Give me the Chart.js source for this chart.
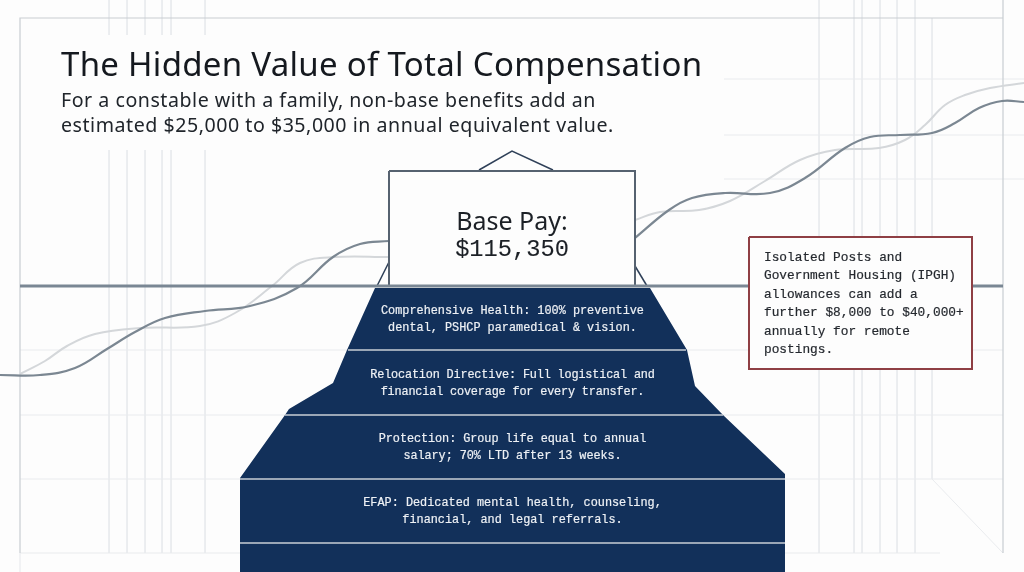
<!DOCTYPE html>
<html>
<head>
<meta charset="utf-8">
<title>The Hidden Value of Total Compensation</title>
<script src="https://cdn.jsdelivr.net/npm/chart.js@4"></script>
<style>
 html,body{margin:0;padding:0;background:#fdfdfd;overflow:hidden;}
 #wrap{position:relative;width:1024px;height:572px;}
 canvas{position:absolute;left:0;top:0;}
 .t{position:absolute;white-space:nowrap;}
 #title{left:61px;top:41px;font:33px/46px "Noto Sans",sans-serif;letter-spacing:.29px;color:#15191f;}
 #sub{left:61px;top:87px;font:19.6px/25px "Noto Sans",sans-serif;letter-spacing:.53px;color:#20252b;}
 #base{left:389px;width:246px;top:206px;text-align:center;color:#1c2026;}
 #base div:first-child{font:25px/28px "Noto Sans",sans-serif;}
 #base div:last-child{font:23.7px/28px "Liberation Mono",monospace;position:relative;top:2px;-webkit-text-stroke:.1px #1c2026;}
 .band{left:240px;width:545px;text-align:center;color:#eef1f5;font:11.85px/16.6px "Liberation Mono",monospace;-webkit-text-stroke:.2px #eef1f5;}
 #card{left:764px;top:249px;color:#25292f;font:12.8px/18.4px "Liberation Mono",monospace;-webkit-text-stroke:.2px #25292f;}
</style>
</head>
<body>
<div id="wrap">
 <canvas id="c" width="1024" height="572"></canvas>
 <div class="t" id="title"></div>
 <div class="t" id="sub"></div>
 <div class="t" id="base"></div>
 <div class="t" id="card"></div>
</div>
<script>
// text
const titleText = "The Hidden Value of Total Compensation";
const subLines = ["For a constable with a family, non-base benefits add an",
                  "estimated $25,000 to $35,000 in annual equivalent value."];
const baseLines = ["Base Pay:", "$115,350"];
const bandLines = [
 ["Comprehensive Health: 100% preventive","dental, PSHCP paramedical & vision."],
 ["Relocation Directive: Full logistical and","financial coverage for every transfer."],
 ["Protection: Group life equal to annual","salary; 70% LTD after 13 weeks."],
 ["EFAP: Dedicated mental health, counseling,","financial, and legal referrals."]
];
const bandTops = [303,367,431,495];
const bandSpacing = [0,-0.17,-0.07,0];
const cardLines = ["Isolated Posts and","Government Housing (IPGH)","allowances can add a",
                   "further $8,000 to $40,000+","annually for remote","postings."];

// the two growth curves; each passes behind the base pay box
const darkLeft = [[0,375],[40,375],[75,368],[107,349],[135,332],[165,318],[205,311],[250,306],[297,288],
 [333,257],[360,244],[389,241]];
const darkRight = [[635,238],[669,210],[692,198],[725,193],[770,193],[805,178],[845,148],[870,137],[900,135],
 [932,133],[955,123],[979,108],[1002,101],[1024,102]];
const lightLeft = [[20,374],[45,361],[67,346],[95,334],[140,328],[200,326],[235,313],[272,286],[300,263],[335,257],[389,257]];
const lightRight = [[635,220],[660,212],[699,210],[730,201],[765,181],[800,160],[835,150],[879,148],[905,140],
 [925,125],[945,105],[965,95],[990,88],[1024,83]];

// iceberg outline
const berg = [[375,288],[347,350],[333,383],[289,409],[285,415],[240,478],[240,572],[785,572],[785,474],[723,415],
 [695,386],[687,350],[650,288]];
const tipPeak = [[479,170],[512,151],[553,170]];
const tipLeft = [[377,286],[389,262]];
const tipRight = [[635,266],[647,286]];
const baseBox = [[389,171],[635,171],[635,286],[389,286],[389,171]];
const cardBox = [[749,237],[972,237],[972,369],[749,369],[749,237]];

// rules
const separators = [[350,348,686],[415,285,723],[479,240,785],[543,240,785]];
const waterLine = [[20,286],[1003,286]];
const gridLeft = [109,127,145,162,171,205];
const gridRight = [819,854,862,880,897,915];
const gridRows = [[350,20,1003],[415,20,1003],[479,20,1003]];
const gridUpper = [79,135,179];
const frame = [[20,553],[20,18],[1003,18]];
const frameTail = [[20,553],[20,572]];
const frameRight = [[1003,0],[1003,553]];
const frameBottom = [[20,553],[940,553]];
const diagonal = [[932,18],[932,479],[1003,553]];

const xy = a => a.map(p=>({x:p[0],y:p[1]}));
function line(points,color,width,extra){
 return Object.assign({data:xy(points),borderColor:color,borderWidth:width,pointRadius:0,fill:false,tension:0},extra||{});
}
function shape(points,fillColor,borderColor,width){
 return line(points,borderColor,width,{fill:'shape',backgroundColor:fillColor});
}

const gridCol="#e9ebee", frameCol="#c9cdd2", tipCol="#2f4058";
const smooth={tension:0.4};
let layers=[];
gridLeft.forEach(x=>{
 layers.push(line([[x,0],[x,35]],gridCol,1));
 layers.push(line([[x,150],[x,553]],gridCol,1));
});
gridRight.forEach(x=>layers.push(line([[x,0],[x,553]],gridCol,1)));
layers.push(line(diagonal,gridCol,1));
gridRows.forEach(r=>layers.push(line([[r[1],r[0]],[r[2],r[0]]],gridCol,1)));
gridUpper.forEach(y=>layers.push(line([[724,y],[1024,y]],gridCol,1)));
layers.push(line(frameBottom,gridCol,1.2));
layers.push(line(frameTail,gridCol,1.2));
layers.push(line(frame,frameCol,1.2));
layers.push(line(frameRight,frameCol,1.2));
layers.push(line(lightLeft,"#d4d7da",2,smooth));
layers.push(line(lightRight,"#d4d7da",2,smooth));
layers.push(line(darkLeft,"#7b8792",2.2,smooth));
layers.push(line(darkRight,"#7b8792",2.2,smooth));
layers.push(line(tipPeak,tipCol,1.5));
layers.push(line(tipLeft,tipCol,1.5));
layers.push(line(tipRight,tipCol,1.5));
layers.push(shape(baseBox,"#fdfdfd","#566270",2));
layers.push(shape(berg,"#12305a","#12305a",0));
separators.forEach(s=>layers.push(line([[s[1],s[0]],[s[2],s[0]]],"#c9ced6",1.6)));
layers.push(line(waterLine,"#7a8794",3));
layers.push(shape(cardBox,"#fdfdfd","#8f3f44",2));
// first dataset would paint on top otherwise
layers.forEach((d,i)=>{d.order=layers.length-i;});

new Chart(document.getElementById("c"),{
 type:"line",
 data:{datasets:layers},
 options:{
  responsive:false,
  animation:false,
  events:[],
  layout:{padding:0},
  plugins:{legend:{display:false},tooltip:{enabled:false}},
  scales:{
   x:{type:"linear",min:0,max:1024,display:false},
   y:{type:"linear",min:0,max:572,reverse:true,display:false}
  }
 }
});

// text goes on top of the canvas
const byId=id=>document.getElementById(id);
const addLines=(el,lines)=>lines.forEach(s=>{
 const d=document.createElement("div");
 d.textContent=s;
 el.appendChild(d);
});
byId("title").textContent=titleText;
addLines(byId("sub"),subLines);
addLines(byId("base"),baseLines);
addLines(byId("card"),cardLines);
bandLines.forEach((lines,i)=>{
 const b=document.createElement("div");
 b.className="t band";
 b.style.top=bandTops[i]+"px";
 b.style.letterSpacing=bandSpacing[i]+"px";
 addLines(b,lines);
 byId("wrap").appendChild(b);
});
</script>
</body>
</html>
